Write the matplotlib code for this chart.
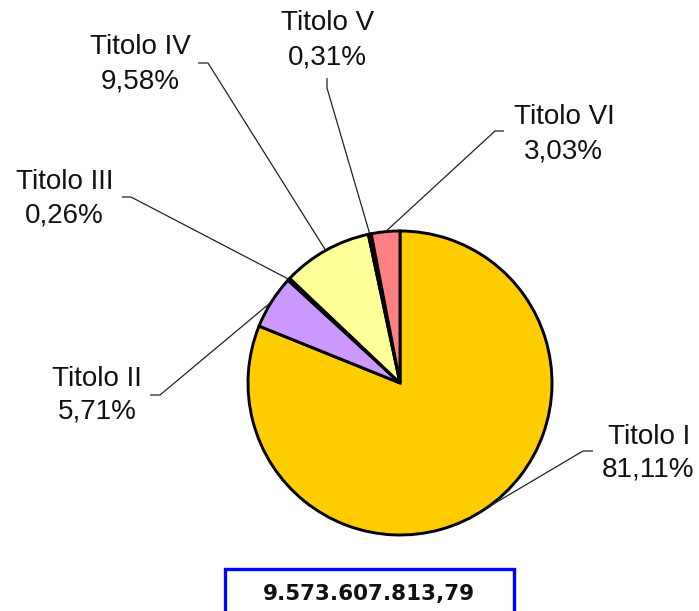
import numpy as np
import matplotlib
matplotlib.use("Agg")
import matplotlib.pyplot as plt
from matplotlib.patches import Rectangle

# ---- data ----
categories = ["Titolo I", "Titolo II", "Titolo III", "Titolo IV", "Titolo V", "Titolo VI"]
values = [81.11, 5.71, 0.26, 9.58, 0.31, 3.03]
pct_labels = ["81,11%", "5,71%", "0,26%", "9,58%", "0,31%", "3,03%"]
total_label = "9.573.607.813,79"

colors = ["#FFCC00", "#CC99FF", "#FFFFFF", "#FFFF99", "#CCFFFF", "#FF8080"]

W, H = 699, 611
fig = plt.figure(figsize=(W / 100, H / 100), dpi=100)
ax = fig.add_axes([0, 0, 1, 1])

def Y(y):  # image-pixel y -> data y
    return H - y

cx, cy, r = 400, Y(383), 152
wedges, _ = ax.pie(values, colors=colors, startangle=90, counterclock=False,
                   center=(cx, cy), radius=r,
                   wedgeprops=dict(edgecolor="black", linewidth=2.1))
ax.set_xlim(0, W)
ax.set_ylim(0, H)
ax.set_aspect("auto")
ax.axis("off")

# label layout: (line1 center, line2 center, elbow point, end point) in image pixels
layout = [
    ((649, 437), (648, 470), (583, 451), (593, 451)),
    ((97, 379), (97, 411), (160, 395), (150, 395)),
    ((65, 182), (64, 215), (131, 197), (122, 197)),
    ((140, 47), (140, 81), (208, 63), (198, 63)),
    ((328, 23), (327, 58), (327, 88), (327, 78)),
    ((564, 117), (563, 151), (495, 131), (504, 131)),
]

fs = 20
for w, name, pct, (p1, p2, elb, end) in zip(wedges, categories, pct_labels, layout):
    mid = np.deg2rad((w.theta1 + w.theta2) / 2)
    ax_x = cx + r * np.cos(mid)
    ax_y = cy + r * np.sin(mid)
    ax.plot([ax_x, elb[0], end[0]], [ax_y, Y(elb[1]), Y(end[1])],
            color="#222222", lw=0.9, solid_capstyle="butt", zorder=1)
    ax.text(p1[0], Y(p1[1]), name, ha="center", va="center", fontsize=fs,
            family="Liberation Sans", color="#111111")
    ax.text(p2[0], Y(p2[1]), pct, ha="center", va="center", fontsize=fs,
            family="Liberation Sans", color="#111111")

# total box
ax.add_patch(Rectangle((225, Y(640)), 289, 640 - 569, fill=False,
                       edgecolor="#0000FF", linewidth=2.4, clip_on=False))
ax.text(369, Y(594), total_label, ha="center", va="center", fontsize=15.5,
        fontweight="bold", family="DejaVu Sans", color="#111111")

fig.savefig("out.png", dpi=100)
